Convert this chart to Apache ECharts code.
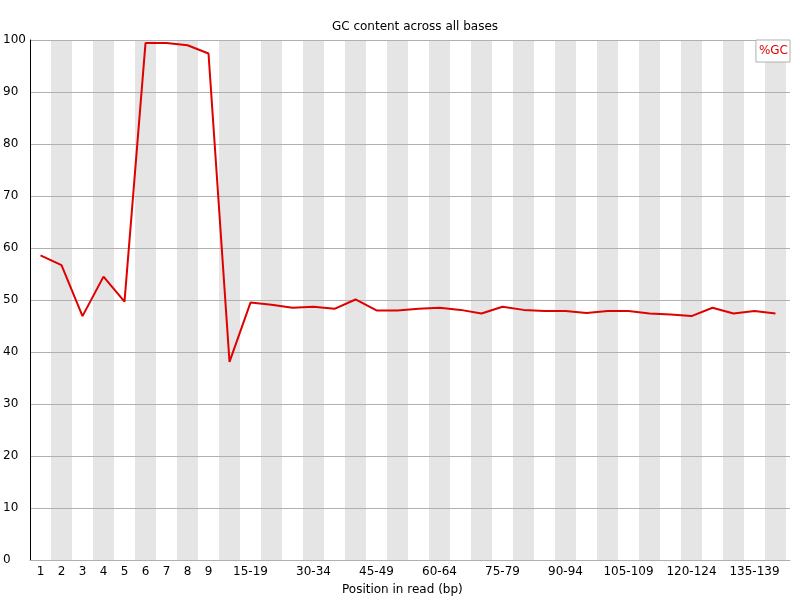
<!DOCTYPE html>
<html>
<head>
<meta charset="utf-8">
<script src="https://cdn.jsdelivr.net/npm/echarts@6/dist/echarts.min.js"></script>
<style>html,body{margin:0;padding:0;background:#fff}#c{width:800px;height:600px}</style>
</head>
<body>
<div id="c"></div>
<script>
var chartTitle = 'GC content across all bases';
var xAxisTitle = 'Position in read (bp)';
var seriesName = '%GC';
var categories = ['1','2','3','4','5','6','7','8','9',
  '10-14','15-19','20-24','25-29','30-34','35-39','40-44','45-49','50-54','55-59',
  '60-64','65-69','70-74','75-79','80-84','85-89','90-94','95-99','100-104','105-109',
  '110-114','115-119','120-124','125-129','130-134','135-139','140-144'];
var gcValues = [58.6, 56.7, 46.9, 54.5, 49.7, 99.4, 99.4, 99.0, 97.4, 38.1,
  49.5, 49.1, 48.5, 48.7, 48.3, 50.1, 48.0, 48.0, 48.3, 48.5,
  48.1, 47.4, 48.7, 48.1, 47.9, 47.9, 47.5, 47.9, 47.9, 47.4,
  47.2, 46.9, 48.5, 47.4, 47.9, 47.4];

var FONT = 'DejaVu Sans';
var chart = echarts.init(document.getElementById('c'), null, {renderer: 'canvas'});
chart.setOption({
  backgroundColor: '#fff',
  animation: false,
  textStyle: {fontFamily: FONT},
  title: {
    text: chartTitle, left: 410, top: 16, textAlign: 'center',
    textStyle: {fontFamily: FONT, fontSize: 12, fontWeight: 'normal', color: '#000'}
  },
  legend: {
    data: [{name: seriesName, icon: 'none'}],
    right: 10, top: 40,
    itemWidth: 0, itemHeight: 0,
    padding: [5, 2, 5, -2],
    borderColor: '#b0b0b0', borderWidth: 1, borderRadius: 0, backgroundColor: '#fff',
    textStyle: {color: '#e00000', fontFamily: FONT, fontSize: 12}
  },
  graphic: [{
    type: 'text', left: 342, top: 584, z: 10,
    style: {text: xAxisTitle, font: '12px "DejaVu Sans"', fill: '#000'}
  }],
  grid: [
    {left: 30, right: 10, top: 40, bottom: 40},
    {left: 30, right: 14, top: 40, bottom: 40}
  ],
  xAxis: [
    {
      gridIndex: 0, type: 'value', min: 0, max: 1, z: 3,
      axisLine: {show: true, onZero: false, lineStyle: {color: '#b0b0b0', width: 1}},
      axisTick: {show: false}, axisLabel: {show: false}, splitLine: {show: false}
    },
    {
      gridIndex: 1, type: 'category', data: categories, boundaryGap: true, z: 0,
      axisLine: {show: false}, axisTick: {show: false, interval: 0},
      axisLabel: {
        color: '#000', fontFamily: FONT, fontSize: 12, margin: 6,
        interval: function (idx) { return idx < 9 || (idx >= 10 && (idx - 10) % 3 === 0); }
      },
      splitLine: {show: false},
      splitArea: {show: true, interval: 0, areaStyle: {color: ['rgba(255,255,255,0)', '#e5e5e5']}}
    }
  ],
  yAxis: [
    {
      gridIndex: 0, type: 'value', min: 0, max: 100, interval: 10, z: 3,
      axisLine: {show: true, lineStyle: {color: '#000', width: 1}},
      axisTick: {show: false},
      axisLabel: {color: '#000', fontFamily: FONT, fontSize: 12, align: 'left', margin: 27, verticalAlign: 'middle', padding: [3, 0, 0, 0]},
      splitLine: {show: true, lineStyle: {color: '#b0b0b0', width: 1}}
    },
    {
      gridIndex: 1, type: 'value', min: 0, max: 100, show: false,
      splitLine: {show: false}
    }
  ],
  series: [{
    name: seriesName, type: 'line', xAxisIndex: 1, yAxisIndex: 1, z: 5,
    data: gcValues, symbol: 'none', smooth: false,
    lineStyle: {color: '#e00000', width: 2},
    itemStyle: {color: '#e00000'}
  }]
});
</script>
</body>
</html>
